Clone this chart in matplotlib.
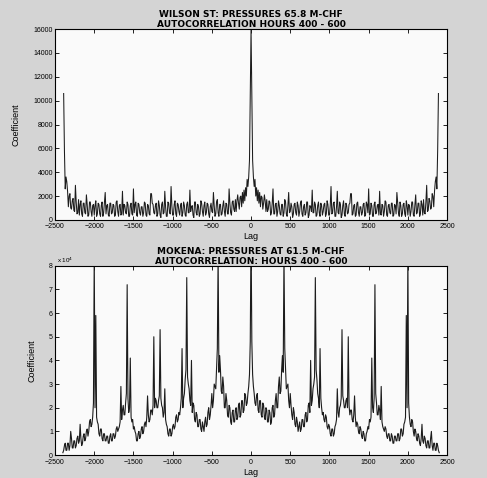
import numpy as np
import matplotlib
matplotlib.use("Agg")
import matplotlib.pyplot as plt

# autocorrelation is symmetric, so only lags >= 0 are kept (step 10)
wilson_lag = np.arange(0, 2400, 10)
wilson_coef = [
    16000, 10600, 5000, 3600, 2800, 3400, 2000, 2700, 1600, 2500, 1400, 2300, 1100, 2000, 1900, 900, 1400, 2100, 1600, 700,
    1700, 700, 900, 1600, 1500, 400, 600, 1400, 2600, 500, 500, 1300, 1400, 300, 700, 1600, 1200, 500, 400, 1300,
    1300, 300, 600, 1700, 1500, 500, 300, 1200, 2300, 600, 700, 1400, 1100, 200, 500, 1300, 1400, 600, 400, 1500,
    1200, 300, 700, 1400, 1600, 500, 300, 1100, 1300, 400, 600, 1500, 1500, 200, 400, 1200, 1100, 700, 2500, 600,
    600, 1500, 1300, 300, 400, 1200, 1500, 600, 300, 1400, 1200, 400, 700, 1300, 1400, 300, 500, 1600, 1300, 400,
    400, 1200, 2800, 500, 600, 1400, 1500, 300, 300, 1100, 2400, 600, 500, 1500, 1300, 200, 400, 1200, 1600, 500,
    300, 1400, 1200, 500, 600, 1300, 1400, 2200, 2200, 400, 500, 1200, 1300, 300, 400, 1400, 1500, 600, 300, 1100,
    1100, 400, 600, 1300, 1400, 300, 400, 1500, 1300, 600, 2600, 400, 500, 1400, 1200, 300, 300, 1300, 1500, 500,
    600, 1200, 1300, 400, 2400, 500, 400, 1300, 1200, 300, 700, 1600, 1500, 400, 300, 1200, 1300, 600, 500, 1400,
    1400, 300, 400, 1300, 1200, 500, 2300, 1400, 600, 300, 1500, 1200, 300, 500, 1300, 1400, 500, 300, 1600, 1200,
    400, 1300, 1200, 300, 700, 1500, 1500, 400, 300, 1300, 2100, 500, 600, 1400, 1400, 300, 500, 1600, 1300, 400,
    1700, 600, 500, 1500, 2900, 700, 800, 1800, 1600, 900, 1000, 2200, 2000, 1100, 2400, 3200, 3600, 2600, 5800, 10600,
]

mokena_lag = np.arange(0, 2410, 10)
# values in units of 1e4
mokena_coef = [
    9.5, 4.8, 3.4, 2.9, 2.6, 2.2, 2.1, 2.5, 2.6, 1.9, 1.8, 2.3, 2.3, 1.7, 1.6, 2.2, 2.1, 1.6, 1.5, 2.0,
    1.9, 1.4, 1.4, 1.9, 1.8, 1.3, 1.4, 2.0, 2.1, 1.6, 1.7, 2.3, 2.6, 2.0, 2.0, 2.9, 3.3, 2.6, 2.7, 3.6,
    4.2, 3.5, 8.5, 4.5, 3.6, 2.8, 2.9, 3.0, 2.3, 2.0, 2.6, 2.1, 1.7, 1.5, 2.0, 1.8, 1.3, 1.2, 1.6, 1.4,
    1.0, 1.2, 1.4, 1.0, 1.1, 1.5, 1.5, 1.2, 1.2, 1.7, 1.8, 1.4, 1.5, 2.1, 2.2, 1.8, 4.0, 2.1, 2.3, 2.8,
    3.0, 3.3, 7.5, 3.6, 3.2, 2.6, 2.4, 2.0, 4.5, 2.4, 2.0, 1.7, 1.8, 1.5, 1.4, 1.7, 1.6, 1.2, 1.1, 1.3,
    1.2, 0.9, 0.8, 1.1, 1.1, 0.8, 0.9, 1.2, 1.3, 1.5, 2.8, 1.8, 1.6, 2.0, 2.1, 2.4, 5.3, 2.5, 2.3, 2.0,
    2.0, 2.3, 2.4, 2.0, 5.0, 2.1, 1.7, 1.9, 1.9, 1.5, 1.4, 1.7, 2.5, 1.6, 1.2, 1.4, 1.3, 1.0, 0.9, 1.2,
    1.1, 0.8, 0.7, 1.0, 0.9, 0.6, 0.6, 0.9, 1.0, 1.2, 1.1, 1.5, 1.4, 1.6, 4.1, 2.0, 1.8, 2.4, 7.2, 2.6,
    2.2, 1.7, 1.7, 2.1, 1.9, 1.5, 2.9, 1.4, 1.2, 1.1, 1.0, 1.2, 1.1, 0.8, 0.7, 0.9, 0.9, 0.6, 0.6, 0.9,
    0.8, 0.5, 0.5, 0.8, 0.8, 0.6, 0.6, 0.9, 0.9, 0.6, 0.7, 1.1, 1.1, 0.8, 0.9, 1.3, 1.4, 1.6, 5.9, 2.0,
    8.5, 2.2, 1.6, 1.3, 1.2, 1.5, 1.4, 1.0, 0.8, 1.1, 1.0, 0.7, 0.6, 0.9, 0.8, 0.5, 0.4, 0.7, 1.3, 0.6,
    0.5, 0.8, 0.7, 0.4, 0.3, 0.6, 0.6, 0.3, 0.3, 0.7, 1.0, 0.4, 0.2, 0.5, 0.5, 0.2, 0.2, 0.5, 0.4, 0.2,
    0.1,
]

xticks = np.arange(-2500, 2501, 500)


def full(lag, coef):
    lag = np.asarray(lag)
    coef = np.asarray(coef, dtype=float)
    return (np.concatenate([-lag[::-1], lag[1:]]),
            np.concatenate([coef[::-1], coef[1:]]))


plt.rcParams['font.family'] = ['Liberation Sans', 'DejaVu Sans']

fig = plt.figure(figsize=(4.87, 4.78), dpi=100, facecolor='#d4d4d4')
ax1 = fig.add_axes([0.113, 0.540, 0.805, 0.399])
ax2 = fig.add_axes([0.113, 0.048, 0.805, 0.396])

title_kw = dict(fontsize=6.5, fontweight='bold', family='DejaVu Sans',
                pad=1.5, linespacing=1.1)

x, y = full(wilson_lag, wilson_coef)
ax1.plot(x, y, color='#1c1c1c', lw=0.75)
ax1.set_ylim(0, 16000)
ax1.set_yticks(np.arange(0, 16001, 2000))
ax1.set_title('WILSON ST: PRESSURES 65.8 M-CHF\nAUTOCORRELATION HOURS 400 - 600',
              **title_kw)

x, y = full(mokena_lag, mokena_coef)
ax2.plot(x, y, color='#1c1c1c', lw=0.8)
ax2.set_ylim(0, 8)
ax2.set_yticks(np.arange(0, 9, 1))
ax2.set_title('MOKENA: PRESSURES AT 61.5 M-CHF\nAUTOCORRELATION: HOURS 400 - 600',
              **title_kw)
ax2.text(0.005, 1.005, r'x 10$^4$', transform=ax2.transAxes, fontsize=4.5,
         ha='left', va='bottom')

for ax in (ax1, ax2):
    ax.set_facecolor('#fafafa')
    ax.set_xlim(-2500, 2500)
    ax.set_xticks(xticks)
    ax.tick_params(direction='in', top=True, right=True, length=3, width=0.6,
                   labelsize=5, pad=1.5)
    ax.tick_params(axis='x', pad=2.5)
    ax.set_xlabel('Lag', fontsize=6.5, labelpad=1.5)
    ax.set_ylabel('Coefficient', fontsize=6.5, labelpad=9)
    for s in ax.spines.values():
        s.set_linewidth(0.8)

fig.savefig('out.png', dpi=100, facecolor=fig.get_facecolor())
